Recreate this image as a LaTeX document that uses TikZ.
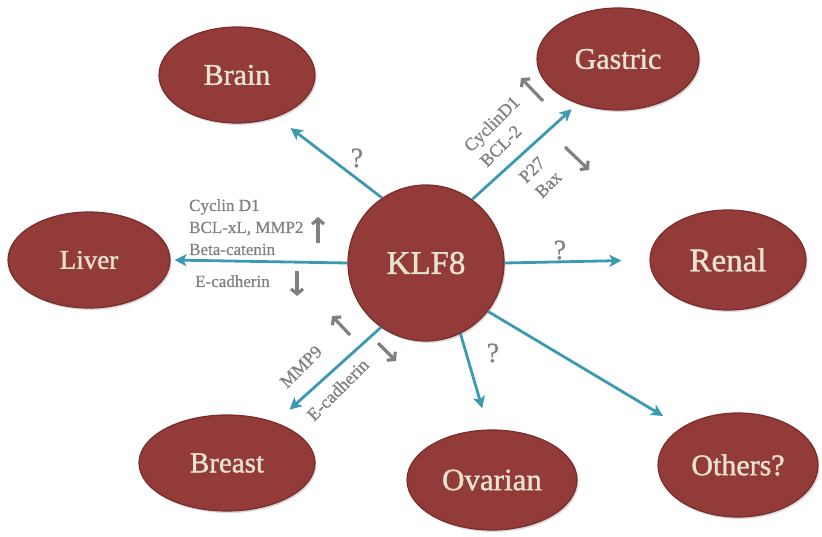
\documentclass[tikz,border=0pt]{standalone}
\usepackage{fontspec}
\setmainfont{Liberation Serif}
\newfontfamily\organfont[FakeBold=1.2]{Liberation Serif}
\newfontfamily\labfont[FakeBold=0.6]{Liberation Serif}
\usetikzlibrary{arrows.meta,shapes.geometric,shadows}
\definecolor{organfill}{HTML}{933B39}
\definecolor{organrim}{HTML}{7A2C2B}
\definecolor{cream}{HTML}{E8E3CF}
\definecolor{linkblue}{HTML}{3B9AB2}
\definecolor{labgray}{HTML}{808080}
\begin{document}
\begin{tikzpicture}[x=1pt,y=-1pt,
  organ/.style={ellipse, fill=organfill, draw=organrim, line width=1.2pt, text=cream, inner sep=0pt,
    drop shadow={shadow xshift=1.5pt,shadow yshift=-2pt,opacity=0.3}},
  link/.style={draw=linkblue, line width=2.8pt, -{Stealth[length=12pt,width=12pt,inset=3pt]}},
  updown/.style={draw=labgray, line width=3.2pt, -{Straight Barb[length=5pt,width=12pt]}},
  lab/.style={text=labgray, font=\labfont\fontsize{17}{22}\selectfont, inner sep=0pt, anchor=base west},
  rlab/.style={lab, rotate=45, font=\labfont\fontsize{18}{22}\selectfont},
  qmark/.style={text=labgray, font=\labfont\fontsize{28}{30}\selectfont, inner sep=0pt}]
\useasboundingbox (0,0) rectangle (822,537);

% organs
\node[organ, minimum width=156pt, minimum height=96pt, font=\organfont\fontsize{30}{30}\selectfont] (brain) at (237,75) {Brain};
\node[organ, minimum width=162pt, minimum height=102pt, font=\organfont\fontsize{30}{30}\selectfont] (gastric) at (618,59) {Gastric};
\node[organ, minimum width=162pt, minimum height=96pt, font=\organfont\fontsize{27}{27}\selectfont] (liver) at (89,260) {Liver};
\node[organ, circle, minimum size=156pt, font=\organfont\fontsize{33}{33}\selectfont] (klf) at (426,263) {KLF8};
\node[organ, minimum width=156pt, minimum height=100pt, font=\organfont\fontsize{33}{33}\selectfont] (renal) at (728,260) {Renal};
\node[organ, minimum width=176pt, minimum height=96pt, font=\organfont\fontsize{29}{29}\selectfont] (breast) at (227,463) {Breast};
\node[organ, minimum width=170pt, minimum height=100pt, font=\organfont\fontsize{31}{31}\selectfont] (ovarian) at (492,480) {Ovarian};
\node[organ, minimum width=160pt, minimum height=104pt, font=\organfont\fontsize{30}{30}\selectfont] (others) at (738,465) {Others?};

% connectors
\draw[link, shorten >=18pt] (klf.124) -- (brain.313);
\draw[link, shorten >=8pt] (klf.54) -- (gastric.228);
\draw[link, shorten >=4pt] (klf.west) -- (liver.east);
\draw[link, shorten >=28pt] (klf.east) -- (renal.west);
\draw[link, shorten >=19pt] (klf.235) -- (breast.40);
\draw[link, shorten >=22pt] (klf.296) -- (ovarian.94);
\draw[link, shorten >=22pt] (klf.322) -- (others.146);

% question marks
\node[qmark] (q1) at (357,158) {?};
\node[qmark] (q2) at (560,250) {?};
\node[qmark] (q3) at (493,353) {?};

% liver labels
\node[lab] (l1) at (189,211) {Cyclin D1};
\node[lab] (l2) at (189,233) {BCL-xL, MMP2};
\node[lab] (l3) at (189,255) {Beta-catenin};
\node[lab] (l4) at (195,287) {E-cadherin};
\draw[updown] (318,243) -- (318,217);
\draw[updown] (297,271) -- (297,296);

% gastric labels
\node[rlab] (g1) at (471,153) {CyclinD1};
\node[rlab] (g2) at (487,168) {BCL-2};
\node[rlab] (g3) at (526,184) {P27};
\node[rlab] (g4) at (542,199) {Bax};
\draw[updown] (543,101) -- (521,78);
\draw[updown] (565,147) -- (589,170);

% breast labels
\node[rlab] (b1) at (287,389) {MMP9};
\node[rlab] (b2) at (314,422) {E-cadherin};
\draw[updown] (350,335) -- (332,316);
\draw[updown] (378,343) -- (396,361);
\end{tikzpicture}
\end{document}
